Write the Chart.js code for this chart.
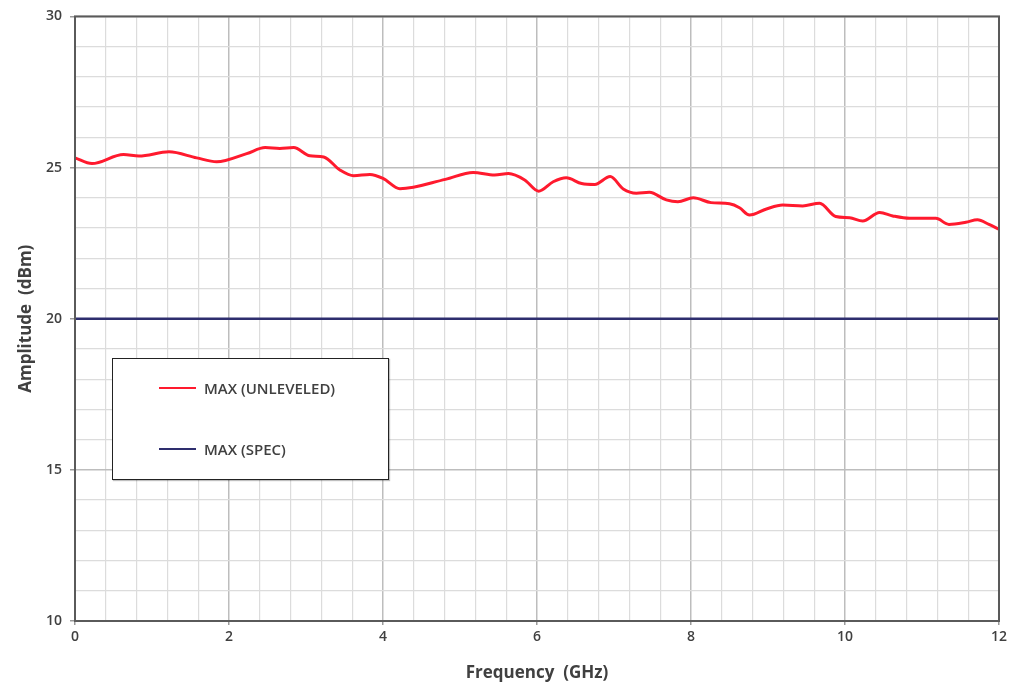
<!DOCTYPE html>
<html lang="en">
<head>
    <meta charset="UTF-8">
    <title>Amplitude vs Frequency</title>
    <script src="https://cdn.jsdelivr.net/npm/chart.js"></script>
    <style>
        html, body { margin: 0; padding: 0; background: #fff; }
        .wrap { position: relative; width: 1011px; height: 687px; }
        .legend-box {
            position: absolute; left: 112px; top: 358px; width: 275px; height: 120px;
            background: #fff; border: 1.5px solid #222; box-shadow: 1px 1px 1px rgba(0,0,0,0.25);
            font-family: "Open Sans", "Liberation Sans", sans-serif; font-weight: 600;
            font-size: 15px; color: #404040;
        }
        .legend-item { position: absolute; left: 46px; display: flex; align-items: center; }
        .legend-item span.swatch { display: inline-block; width: 37px; height: 2px; margin-right: 8px; }
    </style>
</head>
<body>
<div class="wrap">
    <canvas id="chart" width="1011" height="687"></canvas>
    <div class="legend-box">
        <div class="legend-item" style="top: 19px;"><span class="swatch" style="background:#ff1a2e"></span>MAX (UNLEVELED)</div>
        <div class="legend-item" style="top: 80px;"><span class="swatch" style="background:#2e2e6e"></span>MAX (SPEC)</div>
    </div>
</div>
<script>
    const freqGHz = [0, 0.22, 0.63, 0.83, 1.22, 1.58, 1.84, 2.23, 2.47, 2.66, 2.84, 3.05, 3.23, 3.44, 3.62, 3.83, 4.0, 4.22,
        4.81, 5.17, 5.45, 5.63, 5.84, 6.02, 6.21, 6.38, 6.58, 6.75, 6.95, 7.12, 7.29, 7.46, 7.68, 7.83, 8.03,
        8.26, 8.5, 8.63, 8.76, 8.98, 9.19, 9.45, 9.67, 9.88, 10.06, 10.23, 10.45, 10.62, 10.84, 11.18, 11.35,
        11.57, 11.72, 11.87, 12.0];
    const maxUnleveled = [25.32, 25.13, 25.43, 25.38, 25.52, 25.32, 25.19, 25.46, 25.66, 25.63, 25.66, 25.39, 25.35, 24.92, 24.73, 24.77, 24.64, 24.3,
        24.61, 24.84, 24.75, 24.8, 24.59, 24.22, 24.53, 24.66, 24.47, 24.44, 24.7, 24.29, 24.15, 24.18, 23.93, 23.87, 24.0,
        23.84, 23.8, 23.67, 23.43, 23.63, 23.76, 23.73, 23.82, 23.38, 23.34, 23.23, 23.51, 23.4, 23.32, 23.32, 23.12,
        23.19, 23.27, 23.12, 22.96];

    // Spec limit
    const specFreq = [0, 12];
    const specMax = [20, 20];

    const xMin = 0, xMax = 12, xStep = 0.4, xMajor = 2;
    const yMin = 10, yMax = 30, yStep = 1, yMajor = 5;

    const isMajor = (v, m) => Math.abs(v / m - Math.round(v / m)) < 1e-6;
    const fontFam = '"Open Sans", "Liberation Sans", sans-serif';
    const textColor = '#404040';

    const frame = {
        id: 'frame',
        afterDraw(chart) {
            const { ctx, chartArea: a } = chart;
            ctx.save();
            ctx.strokeStyle = '#5a5a5a';
            ctx.lineWidth = 2;
            ctx.strokeRect(a.left, a.top, a.right - a.left, a.bottom - a.top);
            ctx.restore();
        }
    };

    new Chart(document.getElementById('chart'), {
        type: 'line',
        data: {
            datasets: [
                {
                    label: 'MAX (UNLEVELED)',
                    data: freqGHz.map((f, i) => ({ x: f, y: maxUnleveled[i] })),
                    borderColor: '#ff1a2e',
                    borderWidth: 3,
                    pointRadius: 0,
                    cubicInterpolationMode: 'monotone',
                    fill: false
                },
                {
                    label: 'MAX (SPEC)',
                    data: specFreq.map((f, i) => ({ x: f, y: specMax[i] })),
                    borderColor: '#2e2e6e',
                    borderWidth: 2.5,
                    pointRadius: 0,
                    fill: false
                }
            ]
        },
        options: {
            responsive: false,
            animation: false,
            layout: { padding: { top: 14, right: 11, left: 12, bottom: 0 } },
            plugins: { legend: { display: false }, tooltip: { enabled: false } },
            scales: {
                x: {
                    type: 'linear',
                    min: xMin, max: xMax,
                    afterFit(scale) { scale.height = 66; },
                    ticks: {
                        stepSize: xStep,
                        autoSkip: false,
                        maxRotation: 0,
                        padding: 4,
                        color: textColor,
                        font: { family: fontFam, size: 14, weight: '600' },
                        callback: v => isMajor(v, xMajor) ? String(Math.round(v)) : ''
                    },
                    grid: {
                        color: c => isMajor(c.tick.value, xMajor) ? '#bdbdbd' : '#dcdcdc',
                        lineWidth: c => isMajor(c.tick.value, xMajor) ? 1.5 : 1.2,
                        tickLength: 4,
                        tickColor: c => isMajor(c.tick.value, xMajor) ? '#9a9a9a' : 'rgba(0,0,0,0)'
                    },
                    border: { display: false },
                    title: {
                        display: true,
                        text: 'Frequency  (GHz)',
                        color: textColor,
                        font: { family: fontFam, size: 17, weight: 'bold' },
                        padding: { top: 4 }
                    }
                },
                y: {
                    min: yMin, max: yMax,
                    afterFit(scale) { scale.width = 63; },
                    ticks: {
                        stepSize: yStep,
                        autoSkip: false,
                        padding: 8,
                        color: textColor,
                        font: { family: fontFam, size: 14, weight: '600' },
                        callback: v => isMajor(v, yMajor) ? String(v) : ''
                    },
                    grid: {
                        color: c => isMajor(c.tick.value, yMajor) ? '#bdbdbd' : '#dcdcdc',
                        lineWidth: c => isMajor(c.tick.value, yMajor) ? 1.5 : 1.2,
                        tickLength: 5,
                        tickColor: c => isMajor(c.tick.value, yMajor) ? '#9a9a9a' : 'rgba(0,0,0,0)'
                    },
                    border: { display: false },
                    title: {
                        display: true,
                        text: 'Amplitude  (dBm)',
                        color: textColor,
                        font: { family: fontFam, size: 17, weight: 'bold' },
                        padding: { bottom: 0 }
                    }
                }
            }
        },
        plugins: [frame]
    });
</script>
</body>
</html>
